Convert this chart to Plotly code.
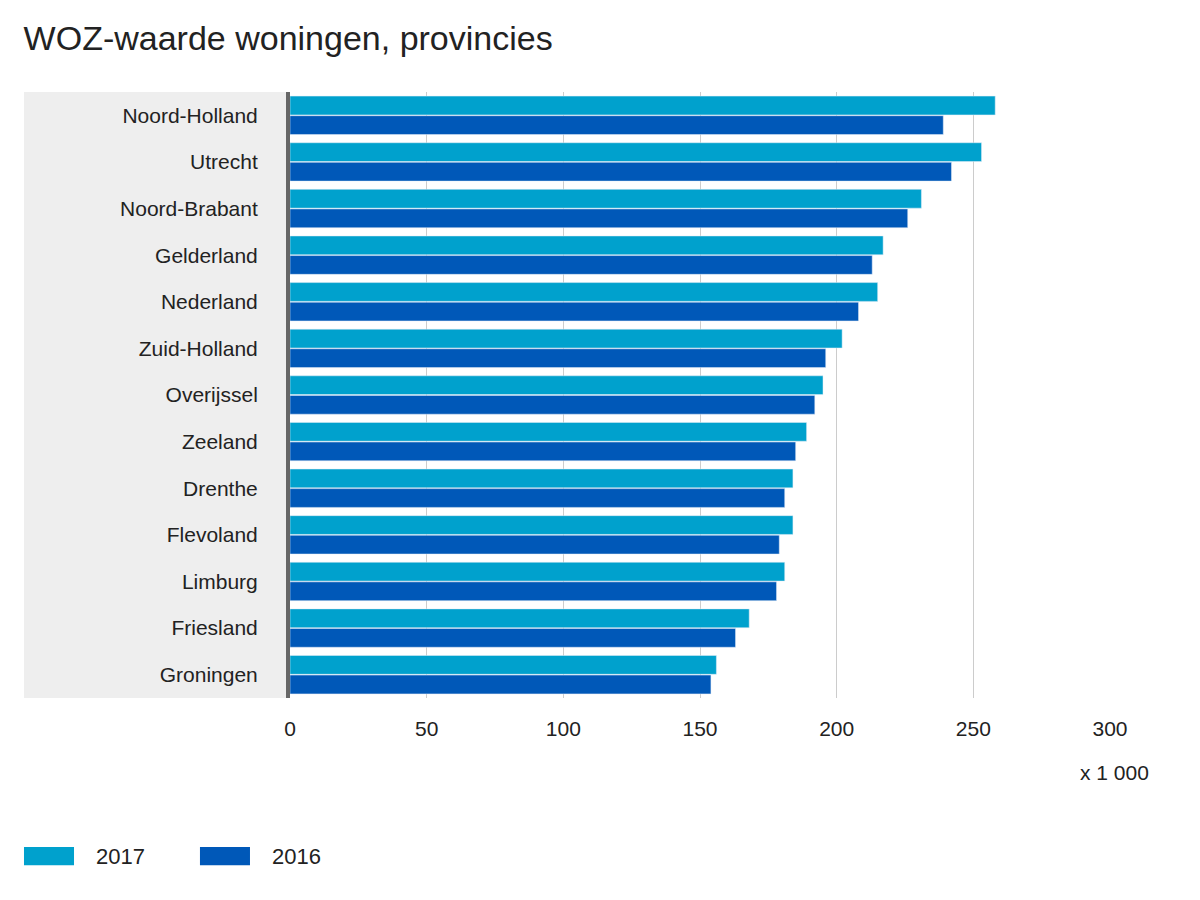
import plotly.graph_objects as go

provinces = ["Noord-Holland", "Utrecht", "Noord-Brabant", "Gelderland", "Nederland",
             "Zuid-Holland", "Overijssel", "Zeeland", "Drenthe", "Flevoland",
             "Limburg", "Friesland", "Groningen"]
woz_2017 = [258, 253, 231, 217, 215, 202, 195, 189, 184, 184, 181, 168, 156]
woz_2016 = [239, 242, 226, 213, 208, 196, 192, 185, 181, 179, 178, 163, 154]
series_names = ["2017", "2016"]
series_colors = ["#00a1cd", "#0058b8"]

fig = go.Figure()
for name, vals, col in zip(series_names, [woz_2017, woz_2016], series_colors):
    fig.add_trace(go.Bar(y=provinces, x=vals, name=name, orientation="h",
                         marker_color=col, showlegend=False))

# grey label panel behind the category names
fig.add_shape(type="rect", xref="paper", yref="paper", x0=-0.3244, x1=0, y0=0, y1=1,
              fillcolor="#eeeeee", line_width=0, layer="below")

# legend drawn as wide swatches like the original
for i, (name, col) in enumerate(zip(series_names, series_colors)):
    x0 = -0.3244 + i * 0.2146
    fig.add_shape(type="rect", xref="paper", yref="paper", x0=x0, x1=x0 + 0.061,
                  y0=-0.276, y1=-0.246, fillcolor=col, line_width=0)
    fig.add_annotation(text=name, xref="paper", yref="paper", x=x0 + 0.085, y=-0.261,
                       showarrow=False, xanchor="left", yanchor="middle",
                       font=dict(size=22, color="#222"))

fig.add_annotation(text="x 1 000", xref="paper", yref="paper", x=1.05, y=-0.1,
                   showarrow=False, xanchor="right", yanchor="top",
                   font=dict(size=21, color="#222"))

fig.update_layout(
    width=1200, height=900,
    title=dict(text="WOZ-waarde woningen, provincies", x=0.013, xanchor="left",
               y=0.98, font=dict(size=34, color="#222")),
    font=dict(family="Arial, Liberation Sans, sans-serif", size=21, color="#222"),
    margin=dict(l=282, r=98, t=84, b=210),
    plot_bgcolor="white", paper_bgcolor="white",
    barmode="group", bargap=0.16, bargroupgap=0.04,
    xaxis=dict(range=[0, 300], dtick=50, showgrid=True, gridcolor="#cccccc",
               zeroline=False, ticks="", ticklabelstandoff=16),
    yaxis=dict(autorange="reversed", ticks="", ticklabelstandoff=24,
               showline=True, linecolor="#666", linewidth=4),
)

fig.write_html("out.html")
